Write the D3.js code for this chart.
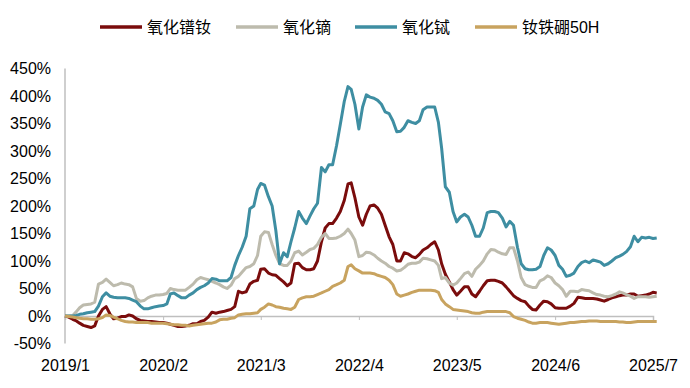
<!DOCTYPE html>
<html>
<head>
<meta charset="utf-8">
<script src="https://cdn.jsdelivr.net/npm/d3@7"></script>
<style>
	body { margin: 0; background: #fff; }
	text { font-family: "Liberation Sans", Arial, "Noto Sans CJK SC", sans-serif; }
</style>
</head>
<body>
<svg id="chart" width="690" height="388"></svg>
<script>
// half-monthly observations, cumulative change since 2019/1 (%)
var dates = [
	"2019-01-01","2019-01-16","2019-02-01","2019-02-16","2019-03-01","2019-03-16","2019-04-01","2019-04-16","2019-05-01","2019-05-16","2019-06-01","2019-06-16",
	"2019-07-01","2019-07-16","2019-08-01","2019-08-16","2019-09-01","2019-09-16","2019-10-01","2019-10-16","2019-11-01","2019-11-16","2019-12-01","2019-12-16",
	"2020-01-01","2020-01-16","2020-02-01","2020-02-16","2020-03-01","2020-03-16","2020-04-01","2020-04-16","2020-05-01","2020-05-16","2020-06-01","2020-06-16",
	"2020-07-01","2020-07-16","2020-08-01","2020-08-16","2020-09-01","2020-09-16","2020-10-01","2020-10-16","2020-11-01","2020-11-16","2020-12-01","2020-12-16",
	"2021-01-01","2021-01-16","2021-02-01","2021-02-16","2021-03-01","2021-03-16","2021-04-01","2021-04-16","2021-05-01","2021-05-16","2021-06-01","2021-06-16",
	"2021-07-01","2021-07-16","2021-08-01","2021-08-16","2021-09-01","2021-09-16","2021-10-01","2021-10-16","2021-11-01","2021-11-16","2021-12-01","2021-12-16",
	"2022-01-01","2022-01-16","2022-02-01","2022-02-16","2022-03-01","2022-03-16","2022-04-01","2022-04-16","2022-05-01","2022-05-16","2022-06-01","2022-06-16",
	"2022-07-01","2022-07-16","2022-08-01","2022-08-16","2022-09-01","2022-09-16","2022-10-01","2022-10-16","2022-11-01","2022-11-16","2022-12-01","2022-12-16",
	"2023-01-01","2023-01-16","2023-02-01","2023-02-16","2023-03-01","2023-03-16","2023-04-01","2023-04-16","2023-05-01","2023-05-16","2023-06-01","2023-06-16",
	"2023-07-01","2023-07-16","2023-08-01","2023-08-16","2023-09-01","2023-09-16","2023-10-01","2023-10-16","2023-11-01","2023-11-16","2023-12-01","2023-12-16",
	"2024-01-01","2024-01-16","2024-02-01","2024-02-16","2024-03-01","2024-03-16","2024-04-01","2024-04-16","2024-05-01","2024-05-16","2024-06-01","2024-06-16",
	"2024-07-01","2024-07-16","2024-08-01","2024-08-16","2024-09-01","2024-09-16","2024-10-01","2024-10-16","2024-11-01","2024-11-16","2024-12-01","2024-12-16",
	"2025-01-01","2025-01-16","2025-02-01","2025-02-16","2025-03-01","2025-03-16","2025-04-01","2025-04-16","2025-05-01","2025-05-16","2025-06-01","2025-06-16",
	"2025-07-01","2025-07-16"
];

var prndValues = [
	0,-2,-6,-9,-13,-17,-19,-21,-18,0, 12,17,4,-5,-4,-1,-1,2,0,-5,
	-8,-9,-10,-10,-11,-12,-12,-13,-15,-17, -19,-19,-18,-17,-14,-14,-10,-8,-2,7,
	5,7,8,10,12,17,45,42,44,58, 63,65,85,86,78,75,74,68,62,55,
	60,95,96,88,84,84,86,100,135,160, 168,168,178,190,210,240,242,215,180,165,
	185,200,202,196,185,165,144,130,100,100, 115,113,108,106,112,120,124,130,135,120,
	95,76,62,48,38,45,53,53,40,35, 45,55,64,65,65,63,60,53,45,37,
	32,28,26,18,12,11,20,27,26,22, 15,14,14,14,18,23,34,33,32,32,
	32,31,29,27,30,33,35,37,38,38, 40,40,36,37,38,40,43,42
];
var dyValues = [
	0,0,1,8,15,20,21,22,25,58, 61,67,61,55,57,60,58,57,53,32,
	27,28,33,36,38,38,39,41,50,48, 47,47,47,52,58,66,70,68,66,63,
	60,57,53,50,56,68,72,80,88,90, 95,110,145,153,152,130,110,95,92,92,
	100,115,118,111,116,121,123,130,143,150, 141,141,142,145,150,158,150,138,108,110,
	116,115,111,105,100,96,90,87,82,83, 88,94,96,96,98,105,104,102,100,92,
	68,70,60,56,60,68,77,80,72,85, 92,100,113,121,120,116,113,112,124,124,
	100,70,57,54,52,52,64,67,73,70, 60,55,48,36,45,45,44,48,47,46,
	42,39,38,36,35,37,40,44,42,39, 36,32,35,35,35,34,35,36
];
var tbValues = [
	0,0,0,1,3,4,6,7,8,18, 35,42,36,34,33,33,33,32,29,26,
	18,13,13,15,17,18,19,22,40,42, 37,33,33,38,42,48,52,55,60,68,
	67,64,64,64,70,92,110,125,145,195, 200,230,241,238,217,200,155,95,115,108,
	135,160,190,178,168,182,195,205,270,262, 275,275,310,348,390,417,412,385,340,380,
	402,398,396,392,385,371,368,355,335,336, 343,355,352,350,355,375,380,380,380,352,
	305,235,225,190,171,180,185,180,165,145, 145,160,188,190,190,188,178,162,172,165,
	125,95,86,84,84,85,90,110,124,120, 110,92,85,72,74,78,90,97,100,97,
	102,100,98,92,95,100,106,109,112,117, 126,145,135,143,142,143,141,142
];
var ndfebValues = [
	0,-1,-2,-3,-4,-5,-5,-6,-6,-5, -3,2,1,-2,-5,-8,-10,-11,-11,-12,
	-12,-12,-12,-13,-13,-13,-13,-14,-15,-16, -16,-17,-17,-18,-17,-16,-15,-14,-13,-13,
	-11,-7,-6,-6,-4,-3,2,3,4,4, 5,6,12,16,22,20,17,16,14,13,
	12,16,30,33,35,35,36,39,42,45, 48,54,57,60,65,90,93,86,82,78,
	78,78,77,74,72,70,65,57,40,36, 38,40,43,45,47,47,47,47,46,43,
	30,22,17,12,11,10,9,8,6,5, 5,7,8,8,8,8,8,8,6,-1,
	-4,-6,-8,-11,-13,-13,-12,-12,-12,-13, -14,-15,-14,-13,-12,-12,-11,-10,-10,-9,
	-9,-9,-10,-10,-10,-10,-10,-11,-11,-12, -12,-11,-10,-10,-10,-10,-10,-10
];

var seriesNames = ['氧化镨钕', '氧化镝', '氧化铽', '钕铁硼50H'];
var tickDates = ['2019-01-01', '2020-02-01', '2021-03-01', '2022-04-01', '2023-05-01', '2024-06-01', '2025-07-01'];
var tickLabels = ['2019/1', '2020/2', '2021/3', '2022/4', '2023/5', '2024/6', '2025/7'];
var yTicks = [-50, 0, 50, 100, 150, 200, 250, 300, 350, 400, 450];

var colors = ['#7a0c0c', '#bdbbad', '#3e8ea2', '#c8a35f'];
var allValues = [prndValues, dyValues, tbValues, ndfebValues];

var parse = d3.timeParse('%Y-%m-%d');
var svg = d3.select('#chart');

var scaleX = d3.scaleTime().domain([parse('2019-01-01'), parse('2025-07-01')]).range([65, 653]);
var scaleY = d3.scaleLinear().domain([-50, 450]).range([343.5, 68.5]);

// y axis (labels only + plain vertical line)
var yAxis = d3.axisLeft(scaleY).tickValues(yTicks).tickSize(0).tickPadding(14).tickFormat(function(d) { return d + '%'; });
var gy = svg.append('g').attr('transform', 'translate(65,0)').call(yAxis);
gy.select('.domain').remove();
gy.selectAll('text').attr('font-size', 16).attr('fill', '#000');
svg.append('line').attr('x1', 65).attr('x2', 65).attr('y1', scaleY(450)).attr('y2', scaleY(-50))
	.attr('stroke', '#bfbfbf').attr('stroke-width', 1.5);

// x axis sits on the 0% line, labels below the -50% level
var xAxis = d3.axisBottom(scaleX).tickValues(tickDates.map(parse)).tickSize(4)
	.tickFormat(function(d, i) { return tickLabels[i]; });
var gx = svg.append('g').attr('transform', 'translate(0,' + scaleY(0) + ')').call(xAxis);
gx.select('.domain').attr('stroke', '#bfbfbf').attr('stroke-width', 1.5);
gx.selectAll('.tick line').attr('stroke', '#bfbfbf');
gx.selectAll('text').attr('font-size', 16).attr('fill', '#000').attr('y', 0)
	.attr('transform', 'translate(0,' + (scaleY(-50) - scaleY(0) + 16) + ')');

var line = d3.line()
	.x(function(d) { return scaleX(d.date); })
	.y(function(d) { return scaleY(d.value); });

allValues.forEach(function(values, i) {
	var data = dates.map(function(s, j) { return { date: parse(s), value: values[j] }; });
	svg.append('path').datum(data)
		.attr('fill', 'none')
		.attr('stroke', colors[i])
		.attr('stroke-width', 3)
		.attr('stroke-linejoin', 'round')
		.attr('d', line);
});

// legend
var legendX = [100, 236, 355, 475];
var legend = svg.append('g');
seriesNames.forEach(function(name, i) {
	legend.append('line').attr('x1', legendX[i]).attr('x2', legendX[i] + 42).attr('y1', 27).attr('y2', 27)
		.attr('stroke', colors[i]).attr('stroke-width', 3.5);
	legend.append('text').attr('x', legendX[i] + 47).attr('y', 27).attr('dy', '0.35em')
		.attr('font-size', 16).attr('fill', '#000').text(name);
});
</script>
</body>
</html>
